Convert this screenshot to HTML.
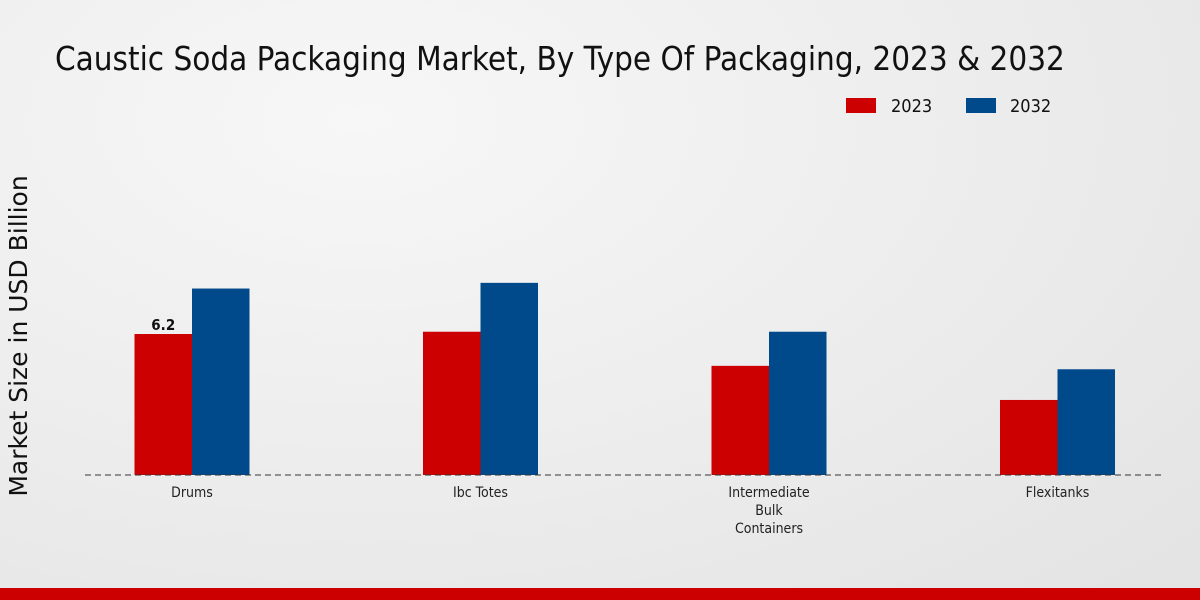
<!DOCTYPE html>
<html><head><meta charset="utf-8"><style>
html,body{margin:0;padding:0;}
body{width:1200px;height:600px;overflow:hidden;background:radial-gradient(ellipse at 30% 20%,#f7f7f7 0%,#ebebeb 60%,#e3e3e3 100%);font-family:"DejaVu Sans Condensed","DejaVu Sans","Liberation Sans",sans-serif;}
svg{position:absolute;left:0;top:0;}
</style></head><body>
<svg width="1200" height="600">
<text x="55" y="70" font-size="32.9" fill="#111" font-family="DejaVu Sans Condensed, DejaVu Sans, sans-serif">Caustic Soda Packaging Market, By Type Of Packaging, 2023 &amp; 2032</text>
<g>
<rect x="846" y="98" width="30" height="15" fill="#cc0000"/>
<text x="891" y="112" font-size="18" fill="#111">2023</text>
<rect x="966" y="98" width="30" height="15" fill="#004a8c"/>
<text x="1010" y="112" font-size="18" fill="#111">2032</text>
</g>
<text transform="translate(27,336) rotate(-90)" text-anchor="middle" font-size="25" fill="#111" font-family="DejaVu Sans, sans-serif">Market Size in USD Billion</text>
<g id="bars"></g>
<line x1="85" y1="475" x2="1163" y2="475" stroke="#333" stroke-dasharray="6,4"/>
<g id="labels"></g>
<rect x="0" y="588" width="1200" height="12" fill="#cc0000"/>
</svg>
<script>
const categories=[["Drums"],["Ibc Totes"],["Intermediate","Bulk","Containers"],["Flexitanks"]];
const values2023=[6.2,6.3,4.8,3.3];
const values2032=[8.2,8.45,6.3,4.65];
const valueLabels=["6.2","","",""];
const NS="http://www.w3.org/2000/svg";
const base=475,scale=22.74,x0=192,step=288.5,bw=57.5;
const y=v=>base-v*scale;
const bars=document.getElementById('bars'),labels=document.getElementById('labels');
function mk(t,a,p){const e=document.createElementNS(NS,t);for(const k in a)e.setAttribute(k,a[k]);p.appendChild(e);return e;}
categories.forEach((c,i)=>{
 const cx=x0+i*step;
 const r1=mk('rect',{x:cx-bw,y:y(values2023[i]),width:bw,height:values2023[i]*scale,fill:'#cc0000'},bars);
 
 
 const r2=mk('rect',{x:cx,y:y(values2032[i]),width:bw,height:values2032[i]*scale,fill:'#004a8c'},bars);
 
 
 if(valueLabels[i]){const t=mk('text',{x:cx-bw/2,y:y(values2023[i])-4,'text-anchor':'middle','font-size':15,'font-weight':'bold',fill:'#111'},labels);t.textContent=valueLabels[i];
 
 }
 const t=mk('text',{x:cx,y:497,'text-anchor':'middle','font-size':14,fill:'#222'},labels);
 
 
 c.forEach((l,j)=>{const s=mk('tspan',{x:cx,dy:j?18:0},t);s.textContent=l;});
});
</script>
</body></html>
